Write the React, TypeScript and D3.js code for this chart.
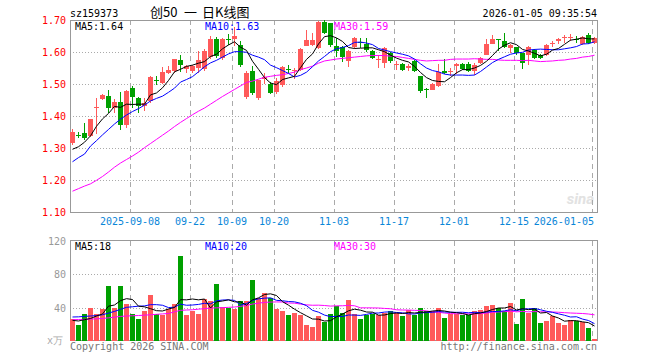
import React from 'react';
import * as d3 from 'd3';

// trading days shown on the chart (MM-DD), 2025-08-25 .. 2026-01-05
const dates = [
  '08-25', '08-26', '08-27', '08-28', '08-29', '09-01', '09-02', '09-03', '09-04', '09-05',
  '09-08', '09-09', '09-10', '09-11', '09-12', '09-15', '09-16', '09-17', '09-18', '09-19',
  '09-22', '09-23', '09-24', '09-25', '09-26', '09-29', '09-30', '10-09', '10-10', '10-13',
  '10-14', '10-15', '10-16', '10-17', '10-20', '10-21', '10-22', '10-23', '10-24', '10-27',
  '10-28', '10-29', '10-30', '10-31', '11-03', '11-04', '11-05', '11-06', '11-07', '11-10',
  '11-11', '11-12', '11-13', '11-14', '11-17', '11-18', '11-19', '11-20', '11-21', '11-24',
  '11-25', '11-26', '11-27', '11-28', '12-01', '12-02', '12-03', '12-04', '12-05', '12-08',
  '12-09', '12-10', '12-11', '12-12', '12-15', '12-16', '12-17', '12-18', '12-19', '12-22',
  '12-23', '12-24', '12-25', '12-26', '12-29', '12-30', '12-31', '01-05',
];

const open = [
  1.316, 1.342, 1.347, 1.336, 1.424, 1.453, 1.462, 1.424, 1.444, 1.373,
  1.488, 1.456, 1.430, 1.448, 1.512, 1.503, 1.534, 1.540, 1.576, 1.548,
  1.542, 1.550, 1.546, 1.583, 1.642, 1.581, 1.640, 1.642, 1.623, 1.460,
  1.541, 1.456, 1.515, 1.500, 1.475, 1.498, 1.546, 1.540, 1.545, 1.620,
  1.623, 1.612, 1.695, 1.690, 1.620, 1.615, 1.573, 1.615, 1.630, 1.625,
  1.604, 1.574, 1.566, 1.597, 1.558, 1.562, 1.550, 1.573, 1.524, 1.484,
  1.482, 1.493, 1.542, 1.537, 1.556, 1.562, 1.563, 1.540, 1.566, 1.592,
  1.626, 1.641, 1.635, 1.613, 1.615, 1.597, 1.590, 1.607, 1.591, 1.590,
  1.625, 1.633, 1.644, 1.645, 1.642, 1.624, 1.653, 1.628,
];
const high = [
  1.360, 1.350, 1.378, 1.392, 1.455, 1.469, 1.482, 1.452, 1.475, 1.482,
  1.493, 1.458, 1.456, 1.524, 1.526, 1.553, 1.555, 1.579, 1.590, 1.560,
  1.558, 1.602, 1.608, 1.649, 1.647, 1.645, 1.655, 1.678, 1.635, 1.540,
  1.555, 1.514, 1.535, 1.505, 1.520, 1.555, 1.558, 1.550, 1.612, 1.668,
  1.660, 1.697, 1.700, 1.692, 1.645, 1.618, 1.605, 1.646, 1.644, 1.644,
  1.606, 1.592, 1.615, 1.600, 1.571, 1.566, 1.562, 1.576, 1.526, 1.488,
  1.503, 1.562, 1.577, 1.550, 1.566, 1.566, 1.570, 1.565, 1.585, 1.642,
  1.652, 1.642, 1.660, 1.624, 1.617, 1.598, 1.620, 1.610, 1.595, 1.624,
  1.633, 1.645, 1.652, 1.656, 1.650, 1.649, 1.658, 1.648,
];
const low = [
  1.310, 1.330, 1.326, 1.334, 1.343, 1.450, 1.410, 1.410, 1.357, 1.362,
  1.425, 1.410, 1.416, 1.440, 1.497, 1.500, 1.530, 1.535, 1.537, 1.535,
  1.535, 1.535, 1.540, 1.578, 1.580, 1.576, 1.622, 1.620, 1.553, 1.452,
  1.465, 1.450, 1.500, 1.468, 1.468, 1.490, 1.535, 1.515, 1.540, 1.618,
  1.620, 1.608, 1.655, 1.617, 1.585, 1.570, 1.552, 1.610, 1.612, 1.600,
  1.578, 1.550, 1.550, 1.565, 1.545, 1.540, 1.540, 1.536, 1.472, 1.456,
  1.480, 1.490, 1.530, 1.524, 1.530, 1.545, 1.536, 1.528, 1.564, 1.590,
  1.624, 1.602, 1.612, 1.598, 1.592, 1.548, 1.560, 1.577, 1.578, 1.588,
  1.615, 1.626, 1.628, 1.634, 1.628, 1.622, 1.626, 1.626,
];
const close = [
  1.350, 1.340, 1.331, 1.391, 1.428, 1.465, 1.425, 1.443, 1.373, 1.479,
  1.460, 1.431, 1.440, 1.522, 1.509, 1.537, 1.545, 1.577, 1.560, 1.556,
  1.556, 1.576, 1.602, 1.642, 1.587, 1.642, 1.637, 1.651, 1.560, 1.534,
  1.472, 1.514, 1.522, 1.472, 1.508, 1.552, 1.543, 1.545, 1.609, 1.637,
  1.638, 1.695, 1.660, 1.623, 1.602, 1.583, 1.604, 1.644, 1.627, 1.607,
  1.581, 1.578, 1.612, 1.571, 1.562, 1.545, 1.555, 1.540, 1.477, 1.482,
  1.500, 1.539, 1.535, 1.542, 1.561, 1.548, 1.541, 1.558, 1.581, 1.625,
  1.642, 1.639, 1.616, 1.623, 1.597, 1.566, 1.615, 1.580, 1.582, 1.622,
  1.629, 1.641, 1.647, 1.648, 1.636, 1.646, 1.628, 1.645,
];

// moving averages as drawn on the chart
const ma5 = [
  1.296, 1.304, 1.318, 1.338, 1.368, 1.391, 1.408, 1.430, 1.427, 1.437,
  1.436, 1.437, 1.437, 1.466, 1.472, 1.488, 1.511, 1.538, 1.546, 1.555,
  1.559, 1.565, 1.570, 1.586, 1.593, 1.610, 1.622, 1.632, 1.615, 1.605,
  1.571, 1.546, 1.520, 1.503, 1.498, 1.514, 1.519, 1.524, 1.551, 1.577,
  1.594, 1.625, 1.648, 1.651, 1.644, 1.633, 1.614, 1.611, 1.612, 1.613,
  1.613, 1.607, 1.601, 1.590, 1.581, 1.574, 1.569, 1.555, 1.536, 1.520,
  1.511, 1.508, 1.507, 1.520, 1.535, 1.545, 1.545, 1.550, 1.558, 1.571,
  1.589, 1.609, 1.621, 1.629, 1.623, 1.608, 1.603, 1.596, 1.588, 1.593,
  1.606, 1.611, 1.624, 1.637, 1.640, 1.644, 1.641, 1.641,
];
const ma10 = [
  1.257, 1.270, 1.281, 1.306, 1.323, 1.341, 1.358, 1.375, 1.390, 1.403,
  1.414, 1.423, 1.434, 1.447, 1.455, 1.462, 1.474, 1.487, 1.506, 1.514,
  1.523, 1.538, 1.554, 1.566, 1.574, 1.584, 1.594, 1.601, 1.601, 1.599,
  1.590, 1.584, 1.576, 1.559, 1.551, 1.542, 1.533, 1.522, 1.527, 1.537,
  1.554, 1.572, 1.586, 1.601, 1.610, 1.614, 1.620, 1.630, 1.631, 1.628,
  1.623, 1.611, 1.606, 1.601, 1.597, 1.593, 1.588, 1.578, 1.563, 1.550,
  1.542, 1.538, 1.531, 1.528, 1.528, 1.528, 1.527, 1.528, 1.539, 1.553,
  1.567, 1.577, 1.585, 1.593, 1.597, 1.599, 1.606, 1.608, 1.609, 1.608,
  1.607, 1.607, 1.610, 1.613, 1.617, 1.625, 1.626, 1.632,
];
const ma30 = [
  1.165, 1.173, 1.181, 1.188, 1.199, 1.211, 1.225, 1.240, 1.253, 1.264,
  1.275, 1.287, 1.301, 1.314, 1.327, 1.340, 1.353, 1.367, 1.380, 1.392,
  1.404, 1.415, 1.425, 1.437, 1.449, 1.461, 1.472, 1.483, 1.494, 1.505,
  1.509, 1.515, 1.521, 1.524, 1.527, 1.529, 1.533, 1.537, 1.545, 1.550,
  1.556, 1.565, 1.572, 1.575, 1.578, 1.580, 1.582, 1.584, 1.586, 1.588,
  1.589, 1.589, 1.589, 1.587, 1.586, 1.583, 1.580, 1.577, 1.574, 1.572,
  1.573, 1.574, 1.574, 1.577, 1.578, 1.578, 1.578, 1.579, 1.578, 1.577,
  1.577, 1.575, 1.574, 1.574, 1.574, 1.573, 1.574, 1.572, 1.570, 1.571,
  1.572, 1.574, 1.575, 1.578, 1.580, 1.584, 1.586, 1.590,
];

// volume, in 万
const volume = [
  26, 19, 33, 40, 32, 38, 66, 40, 66, 44,
  33, 26, 36, 55, 32, 31, 38, 45, 102, 31,
  36, 33, 50, 48, 68, 41, 40, 38, 48, 48,
  73, 52, 58, 52, 38, 36, 31, 34, 31, 19,
  17, 30, 23, 33, 42, 34, 49, 33, 27, 31,
  33, 31, 34, 36, 34, 30, 37, 31, 40, 36,
  36, 40, 28, 33, 33, 31, 31, 36, 37, 42,
  43, 40, 36, 46, 21, 51, 34, 40, 22, 24,
  30, 22, 19, 25, 24, 23, 16, 2,
];
const vma5 = [
  24.8, 24.0, 25.6, 27.0, 30.0, 32.4, 41.8, 43.2, 48.4, 50.8,
  49.8, 41.8, 41.0, 38.8, 36.4, 36.0, 38.4, 40.2, 49.6, 49.4,
  50.4, 49.4, 50.4, 39.6, 47.0, 48.0, 49.4, 47.0, 47.0, 43.0,
  49.4, 51.8, 55.8, 56.6, 54.6, 47.2, 43.0, 38.2, 34.0, 30.2,
  26.4, 26.2, 24.0, 24.4, 29.0, 32.4, 36.2, 38.2, 37.0, 34.8,
  34.6, 31.0, 31.2, 33.0, 33.6, 33.0, 34.2, 33.6, 34.4, 34.8,
  36.0, 36.6, 36.0, 34.6, 34.0, 33.0, 31.2, 32.8, 33.6, 35.4,
  37.8, 39.6, 39.6, 41.4, 37.2, 38.8, 37.6, 38.4, 33.6, 34.2,
  30.0, 27.6, 23.8, 24.4, 24.4, 23.0, 22.0, 18.0,
];
const vma10 = [
  28.8, 29.0, 29.5, 30.0, 30.5, 31.5, 33.5, 35.5, 38.0, 40.4,
  41.1, 41.8, 42.1, 43.6, 43.6, 42.9, 40.1, 40.6, 44.2, 42.9,
  43.2, 43.9, 45.3, 44.6, 48.2, 49.2, 49.4, 48.7, 43.3, 45.0,
  48.7, 50.6, 51.4, 51.8, 48.8, 48.3, 47.4, 47.0, 45.3, 42.4,
  36.8, 34.6, 31.1, 29.2, 29.6, 29.4, 31.2, 31.1, 30.7, 31.9,
  33.5, 33.6, 34.7, 35.0, 34.2, 33.8, 32.6, 32.4, 33.7, 34.2,
  34.5, 35.4, 34.8, 34.5, 34.4, 34.5, 33.9, 34.4, 34.1, 34.7,
  35.4, 35.4, 36.2, 37.5, 36.3, 38.3, 38.6, 39.0, 37.5, 35.7,
  34.4, 32.6, 30.9, 28.8, 29.1, 26.3, 24.6, 20.8,
];
const vma30 = [
  25.6, 25.8, 26.0, 26.3, 26.6, 27.0, 27.8, 28.6, 29.5, 30.0,
  30.3, 30.6, 31.0, 31.5, 32.0, 32.5, 33.0, 35.0, 36.8, 37.2,
  37.5, 38.2, 38.8, 39.5, 39.8, 40.0, 40.4, 40.8, 41.5, 42.8,
  44.3, 45.4, 46.3, 46.7, 46.9, 46.8, 45.6, 45.4, 44.3, 43.4,
  42.9, 43.0, 42.6, 41.9, 42.2, 42.3, 42.7, 42.3, 39.8, 39.8,
  39.7, 39.6, 39.1, 38.7, 37.5, 37.2, 37.1, 36.8, 36.6, 36.2,
  34.9, 34.5, 33.5, 32.9, 32.7, 32.6, 32.6, 32.6, 32.8, 33.6,
  34.5, 34.8, 35.2, 35.7, 35.0, 35.5, 35.0, 35.3, 35.1, 34.9,
  34.8, 34.5, 34.0, 33.6, 33.3, 33.0, 32.4, 31.4,
];

const tickDates = ['09-08', '09-22', '10-09', '10-20', '11-03', '11-17', '12-01', '12-15', '01-05'];
const tickLabels = ['2025-09-08', '09-22', '10-09', '10-20', '11-03', '11-17', '12-01', '12-15', '2026-01-05'];
const priceTicks = [1.1, 1.2, 1.3, 1.4, 1.5, 1.6, 1.7];
const volTicks = [40, 80, 120];

const RED = '#ff5a5a';
const GREEN = '#00a000';
const GRID = '#aaaaaa';
const MONO = '"DejaVu Sans Mono", monospace';
const CJK = '"Noto Sans CJK SC", sans-serif';

const App = () => {
  const left = 70, right = 598;
  const pTop = 20, pBottom = 212;
  const vTop = 241, vBottom = 341;

  const x = d3.scaleBand<string>().domain(dates).range([left, right]);
  const y = d3.scaleLinear().domain([1.1, 1.7]).range([pBottom, pTop]);
  const yv = d3.scaleLinear().domain([0, 120]).range([vBottom, vTop]);
  const cx = (i: number) => (x(dates[i]) as number) + 2.5;

  const priceLine = d3.line<number>().x((d, i) => cx(i)).y(d => y(d));
  const volLine = d3.line<number>().x((d, i) => cx(i)).y(d => yv(d));
  const fmt = d3.format('.2f');

  const isUp = (i: number) => close[i] >= open[i];

  return (
    <div style={{ position: 'absolute', left: 0, top: 0 }}>
      <svg width={660} height={360} style={{ display: 'block', background: '#fff' }}>
        {/* header */}
        <text x={70} y={17} fontFamily={MONO} fontSize={10} fill="#000">sz159373</text>
        <g fontFamily={CJK} fontSize={13} fill="#000">
          <text x={150} y={17}>创50</text>
          <text x={184} y={17}>一</text>
          <text x={202} y={17}>日K线图</text>
        </g>
        <text x={597} y={17} textAnchor="end" fontFamily={MONO} fontSize={10} fill="#000">2026-01-05 09:35:54</text>

        {/* watermark */}
        <text x={594} y={204} textAnchor="end" fontFamily="Roboto, sans-serif" fontStyle="italic" fontWeight="bold" fontSize={15} fill="#e2e2e2">sina</text>

        {/* grid */}
        {priceTicks.slice(1, -1).map(t => (
          <line key={'pg' + t} x1={left} x2={right} y1={Math.round(y(t)) + 0.5} y2={Math.round(y(t)) + 0.5}
            stroke={GRID} strokeDasharray="1,2" />
        ))}
        {volTicks.slice(0, -1).map(t => (
          <line key={'vg' + t} x1={left} x2={right} y1={Math.round(yv(t)) + 0.5} y2={Math.round(yv(t)) + 0.5}
            stroke={GRID} strokeDasharray="1,2" />
        ))}
        {tickDates.map(d => (
          <g key={'vx' + d}>
            <line x1={(x(d) as number) + 0.5} x2={(x(d) as number) + 0.5} y1={pTop} y2={pBottom}
              stroke={GRID} strokeDasharray="5,4" />
            <line x1={(x(d) as number) + 0.5} x2={(x(d) as number) + 0.5} y1={vTop} y2={vBottom}
              stroke={GRID} strokeDasharray="5,4" />
          </g>
        ))}

        {/* frames */}
        <rect x={left + 0.5} y={pTop + 0.5} width={right - left - 1} height={pBottom - pTop} fill="none" stroke="#999" />
        <rect x={left + 0.5} y={vTop - 0.5} width={right - left - 1} height={vBottom - vTop} fill="none" stroke="#999" />

        {/* y labels */}
        {priceTicks.map(t => (
          <text key={'pl' + t} x={66} y={y(t) + 4} textAnchor="end" fontFamily={MONO} fontSize={10} fill="#ff0000">{fmt(t)}</text>
        ))}
        {volTicks.map(t => (
          <text key={'vl' + t} x={66} y={yv(t) + 4} textAnchor="end" fontFamily={MONO} fontSize={10} fill="#999">{t}</text>
        ))}
        <text x={63} y={344} textAnchor="end" fontFamily={MONO} fontSize={10} fill="#aaa">x万</text>

        {/* x labels */}
        {tickDates.map((d, k) => (
          <text key={'xl' + d} x={k === tickDates.length - 1 ? 594 : (x(d) as number)} y={225}
            textAnchor={k === tickDates.length - 1 ? 'end' : 'middle'}
            fontFamily={MONO} fontSize={10} fill="#0a86d8">{tickLabels[k]}</text>
        ))}

        {/* candles */}
        {dates.map((d, i) => {
          const x0 = x(d) as number;
          const c = isUp(i) ? RED : GREEN;
          const top = y(Math.max(open[i], close[i]));
          const bot = y(Math.min(open[i], close[i]));
          return (
            <g key={'c' + d} fill={c} shapeRendering="crispEdges">
              <rect x={x0 + 2} width={1} y={y(high[i])} height={Math.max(1, y(low[i]) - y(high[i]))} />
              <rect x={x0} width={5} y={top} height={Math.max(1, bot - top)} />
            </g>
          );
        })}

        {/* MA lines */}
        <path d={priceLine(ma30) || ''} fill="none" stroke="#ff00ff" strokeWidth={1} />
        <path d={priceLine(ma10) || ''} fill="none" stroke="#0000ff" strokeWidth={1} />
        <path d={priceLine(ma5) || ''} fill="none" stroke="#000" strokeWidth={1} />

        {/* volume bars */}
        {dates.map((d, i) => (
          <rect key={'v' + d} x={x(d) as number} width={5} y={yv(volume[i])} height={vBottom - yv(volume[i])}
            fill={isUp(i) ? RED : GREEN} shapeRendering="crispEdges" />
        ))}
        <path d={volLine(vma30) || ''} fill="none" stroke="#ff00ff" strokeWidth={1} />
        <path d={volLine(vma10) || ''} fill="none" stroke="#0000ff" strokeWidth={1} />
        <path d={volLine(vma5) || ''} fill="none" stroke="#000" strokeWidth={1} />

        {/* legends */}
        <text x={75} y={29.5} fontFamily={MONO} fontSize={10} fill="#000">MA5:1.64</text>
        <text x={205} y={29.5} fontFamily={MONO} fontSize={10} fill="#0000ff">MA10:1.63</text>
        <text x={334} y={29.5} fontFamily={MONO} fontSize={10} fill="#ff00ff">MA30:1.59</text>
        <text x={75} y={249.5} fontFamily={MONO} fontSize={10} fill="#000">MA5:18</text>
        <text x={205} y={249.5} fontFamily={MONO} fontSize={10} fill="#0000ff">MA10:20</text>
        <text x={334} y={249.5} fontFamily={MONO} fontSize={10} fill="#ff00ff">MA30:30</text>

        {/* footer */}
        <text x={70} y={350} fontFamily={MONO} fontSize={10} fill="#777">Copyright 2026 SINA.COM</text>
        <text x={597} y={350} textAnchor="end" fontFamily={MONO} fontSize={10} fill="#777">http://finance.sina.com.cn</text>
      </svg>
    </div>
  );
};

export default App;
